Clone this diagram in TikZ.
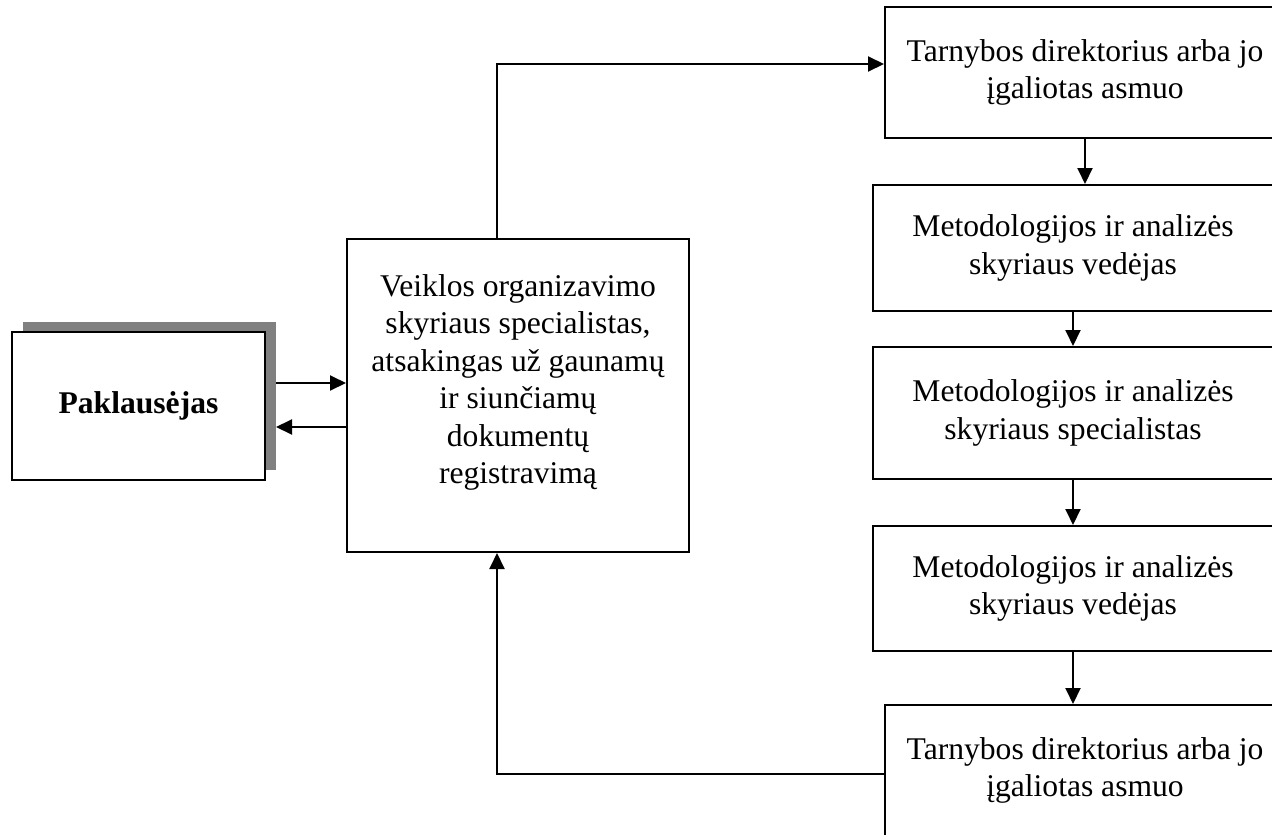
\documentclass[tikz,border=0pt]{standalone}
\usepackage{fontspec}
\setmainfont{Liberation Serif}
\usepackage{tikz}
\usetikzlibrary{arrows.meta, shadows}
\tikzset{
  font=\fontsize{31.6pt}{37.5pt}\selectfont,      % Times-like text
  box/.style     = {rectangle, draw, line width=2pt, fill=white,
                    align=center, inner sep=0pt},
  sidebox/.style = {box, minimum width=400pt},
  arrow/.style   = {-{Triangle[length=16pt, width=15pt]}, line width=2pt}
}

\begin{document}
\begin{tikzpicture}[x=1pt, y=-1pt]
  \useasboundingbox (0,0) rectangle (1272,835);
  \node[box, minimum width=253pt, minimum height=148pt,
        drop shadow={shadow xshift=11pt, shadow yshift=10pt, fill=black!50, opacity=1}]
        (pak) at (138.5,406) {\textbf{Paklausėjas}};
  \node[box, minimum width=342pt, minimum height=313pt] (mid) at (518,395.5)
        {Veiklos organizavimo\\ skyriaus specialistas,\\ atsakingas už gaunamų\\
         ir siunčiamų\\ dokumentų\\ registravimą\\[-5pt]\mbox{}};
  \node[sidebox, minimum height=131pt] (r1) at (1085,72.5)
        {Tarnybos direktorius arba jo\\ įgaliotas asmuo};
  \node[sidebox, minimum height=126pt] (r2) at (1073,248)
        {Metodologijos ir analizės\\ skyriaus vedėjas};
  \node[sidebox, minimum height=132pt] (r3) at (1073,413)
        {Metodologijos ir analizės\\ skyriaus specialistas};
  \node[sidebox, minimum height=125pt] (r4) at (1073,588.5)
        {Metodologijos ir analizės\\ skyriaus vedėjas};
  \node[sidebox, minimum height=131pt] (r5) at (1085,770.5)
        {Tarnybos direktorius arba jo\\ įgaliotas asmuo};
  \coordinate (up) at (497,64);
  \coordinate (down) at (497,774);
  \coordinate (req) at (276,383);
  \coordinate (ans) at (276,427);
  \draw[arrow] (req) -- (req -| mid.west);
  \draw[arrow] (ans -| mid.west) -- (ans);
  \draw[arrow] (mid.north -| up) -- (up) -- (up -| r1.west);
  \draw[arrow] (r1.south) -- (r1.south |- r2.north);
  \draw[arrow] (r2.south) -- (r3.north);
  \draw[arrow] (r3.south) -- (r4.north);
  \draw[arrow] (r4.south) -- (r4.south |- r5.north);
  \draw[arrow] (down -| r5.west) -- (down) -- (mid.south -| down);
\end{tikzpicture}
\end{document}
